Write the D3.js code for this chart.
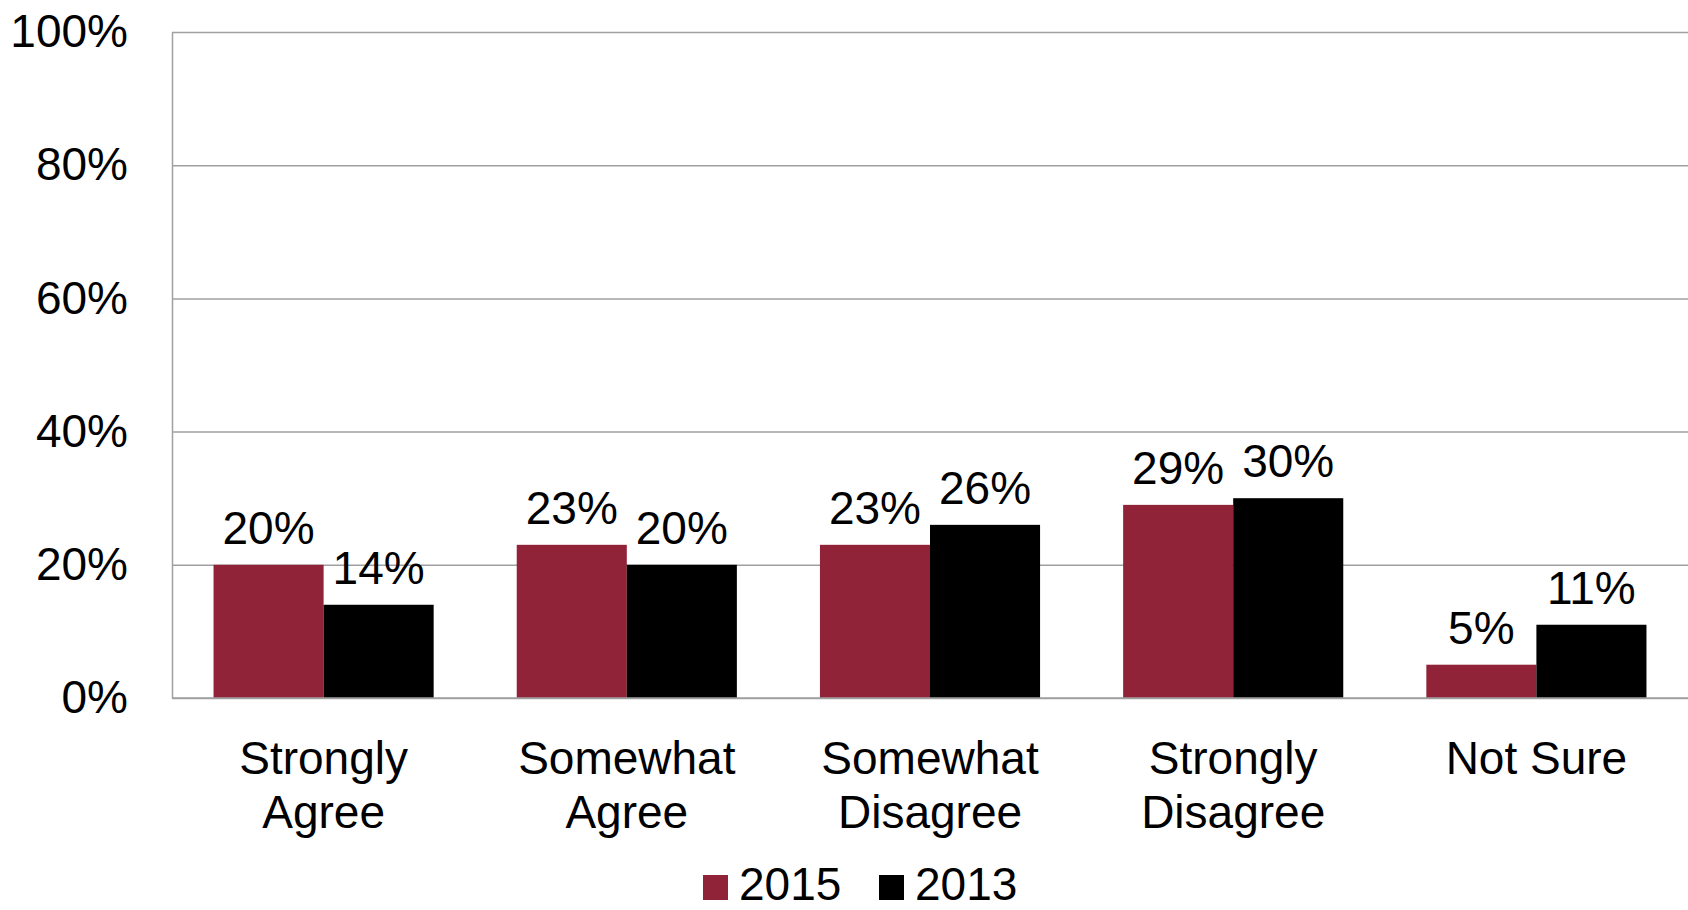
<!DOCTYPE html>
<html>
<head>
<meta charset="utf-8">
<script src="https://cdn.jsdelivr.net/npm/d3@7"></script>
<style>
  body { margin: 0; background: #fff; }
  svg { display: block; font-family: "Liberation Sans", Arial, sans-serif; }
</style>
</head>
<body>
<svg></svg>
<script>
const CATEGORIES = ["Strongly Agree", "Somewhat Agree", "Somewhat Disagree", "Strongly Disagree", "Not Sure"];
const SERIES = ["2015", "2013"];
const VALUES_2015 = [0.20, 0.23, 0.23, 0.29, 0.05];
const VALUES_2013 = [0.14, 0.20, 0.26, 0.30, 0.11];
const Y_TICKS = [0, 0.2, 0.4, 0.6, 0.8, 1.0];
const COLORS = ["#912339", "#000000"];

const WIDTH = 1688;
const HEIGHT = 910;
const MARGINS = { top: 32, right: 0, bottom: 212, left: 172 };

const svg = d3.select('svg')
  .attr('width', WIDTH)
  .attr('height', HEIGHT);

// scales
const xScale = d3.scaleBand()
  .domain(CATEGORIES)
  .range([MARGINS.left, WIDTH - MARGINS.right])
  .paddingInner(0.274)
  .paddingOuter(0.137);

const xSub = d3.scaleBand()
  .domain(SERIES)
  .range([0, xScale.bandwidth()]);

const yScale = d3.scaleLinear()
  .domain([0, 1])
  .range([HEIGHT - MARGINS.bottom, MARGINS.top]);

// y axis + gridlines
const yAxis = svg.append('g')
  .attr('transform', `translate(${MARGINS.left},0)`)
  .call(d3.axisLeft(yScale)
    .tickValues(Y_TICKS)
    .tickFormat(d3.format('.0%'))
    .tickSizeInner(-(WIDTH - MARGINS.left - MARGINS.right))
    .tickSizeOuter(0)
    .tickPadding(44));

yAxis.selectAll('path, line')
  .attr('stroke', '#a0a0a0')
  .attr('stroke-width', 1.5);
yAxis.selectAll('text')
  .attr('font-size', 46)
  .attr('fill', '#000')
  .style('font-family', '"Liberation Sans", Arial, sans-serif');

// bars
const rows = CATEGORIES.map((c, i) => ({
  cat: c,
  vals: [
    { key: "2015", v: VALUES_2015[i] },
    { key: "2013", v: VALUES_2013[i] }
  ]
}));

const groups = svg.selectAll('.cat')
  .data(rows)
  .enter()
  .append('g')
  .classed('cat', true)
  .attr('transform', d => `translate(${xScale(d.cat)},0)`);

groups.selectAll('rect')
  .data(d => d.vals)
  .enter()
  .append('rect')
  .attr('x', d => xSub(d.key))
  .attr('y', d => yScale(d.v))
  .attr('width', xSub.bandwidth())
  .attr('height', d => yScale(0) - yScale(d.v))
  .attr('fill', (d, i) => COLORS[i]);

// value labels
groups.selectAll('.label')
  .data(d => d.vals)
  .enter()
  .append('text')
  .classed('label', true)
  .attr('x', d => xSub(d.key) + xSub.bandwidth() / 2)
  .attr('y', d => yScale(d.v) - 21)
  .attr('text-anchor', 'middle')
  .attr('font-size', 46)
  .text(d => d3.format('.0%')(d.v));

// redraw baseline on top of bars
svg.append('line')
  .attr('x1', MARGINS.left)
  .attr('x2', WIDTH - MARGINS.right)
  .attr('y1', yScale(0))
  .attr('y2', yScale(0))
  .attr('stroke', '#a0a0a0')
  .attr('stroke-width', 1.5);

// category labels
const xAxis = svg.append('g')
  .attr('transform', `translate(0,${yScale(0)})`)
  .call(d3.axisBottom(xScale).tickSize(0).tickPadding(0));
xAxis.select('.domain').remove();
xAxis.selectAll('text')
  .attr('font-size', 46)
  .attr('fill', '#000')
  .attr('dy', null)
  .attr('y', 76)
  .style('font-family', '"Liberation Sans", Arial, sans-serif')
  .each(function (d) {
    const words = d.split(' ');
    const t = d3.select(this).text(null);
    const lines = d === "Not Sure" ? [d] : words;
    lines.forEach((w, i) => {
      t.append('tspan')
        .attr('x', 0)
        .attr('dy', i === 0 ? 0 : 54)
        .text(w);
    });
  });

// legend
const legendItems = [
  { key: "2015", x: 703 },
  { key: "2013", x: 879 }
];
const legend = svg.append('g');
legend.selectAll('rect')
  .data(legendItems)
  .enter()
  .append('rect')
  .attr('x', d => d.x)
  .attr('y', 875)
  .attr('width', 25)
  .attr('height', 25)
  .attr('fill', (d, i) => COLORS[i]);
legend.selectAll('text')
  .data(legendItems)
  .enter()
  .append('text')
  .attr('x', d => d.x + 36)
  .attr('y', 900)
  .attr('font-size', 46)
  .text(d => d.key);
</script>
</body>
</html>
